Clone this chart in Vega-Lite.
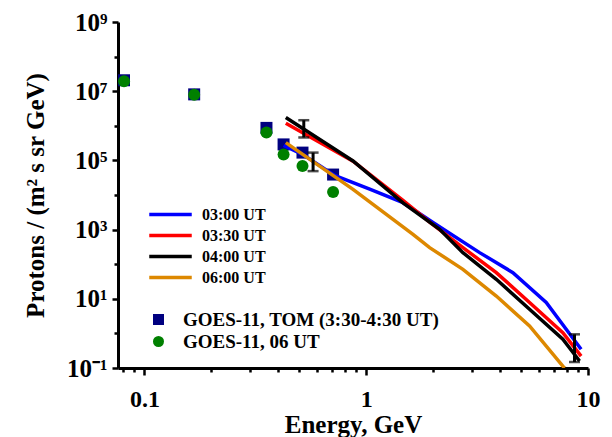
{
  "$schema": "https://vega.github.io/schema/vega-lite/v6.json",
  "width": 470,
  "height": 346,
  "autosize": {"type": "none"},
  "padding": {"left": 118, "top": 22, "right": 24, "bottom": 69},
  "background": "white",
  "config": {
    "view": {"stroke": null},
    "font": "Liberation Serif",
    "axis": {
      "domainColor": "black", "domainWidth": 3, "tickColor": "black", "tickWidth": 2.5,
      "labelColor": "black", "labelFont": "Liberation Serif", "labelFontWeight": "bold",
      "titleColor": "black", "titleFont": "Liberation Serif", "titleFontWeight": "bold",
      "grid": false, "labelOverlap": false, "labelFlush": false
    },
    "legend": {
      "labelFont": "Liberation Serif", "labelFontWeight": "bold", "labelColor": "black", "padding": 0, "labelLimit": 0
    }
  },
  "datasets": {
    "curves": [
      {"series": "03:00 UT", "E": 0.424, "F": 270000},
      {"series": "03:00 UT", "E": 0.516, "F": 150000},
      {"series": "03:00 UT", "E": 0.72, "F": 37000},
      {"series": "03:00 UT", "E": 1.037, "F": 14900},
      {"series": "03:00 UT", "E": 1.465, "F": 6000},
      {"series": "03:00 UT", "E": 2.0, "F": 1600},
      {"series": "03:00 UT", "E": 3.246, "F": 216},
      {"series": "03:00 UT", "E": 4.585, "F": 57},
      {"series": "03:00 UT", "E": 6.48, "F": 7.8},
      {"series": "03:00 UT", "E": 9.31, "F": 0.35},
      {"series": "03:30 UT", "E": 0.434, "F": 1180000},
      {"series": "03:30 UT", "E": 0.872, "F": 95000},
      {"series": "03:30 UT", "E": 1.465, "F": 7000},
      {"series": "03:30 UT", "E": 1.932, "F": 1650},
      {"series": "03:30 UT", "E": 2.729, "F": 302},
      {"series": "03:30 UT", "E": 3.86, "F": 57},
      {"series": "03:30 UT", "E": 5.45, "F": 7.8},
      {"series": "03:30 UT", "E": 7.7, "F": 1.05},
      {"series": "03:30 UT", "E": 9.31, "F": 0.22},
      {"series": "04:00 UT", "E": 0.434, "F": 1730000},
      {"series": "04:00 UT", "E": 0.872, "F": 96000},
      {"series": "04:00 UT", "E": 1.465, "F": 5900},
      {"series": "04:00 UT", "E": 2.143, "F": 1020},
      {"series": "04:00 UT", "E": 2.729, "F": 216},
      {"series": "04:00 UT", "E": 3.86, "F": 36.6},
      {"series": "04:00 UT", "E": 5.45, "F": 4.98},
      {"series": "04:00 UT", "E": 7.7, "F": 0.676},
      {"series": "04:00 UT", "E": 9.16, "F": 0.159},
      {"series": "06:00 UT", "E": 0.434, "F": 327000},
      {"series": "06:00 UT", "E": 0.872, "F": 14600},
      {"series": "06:00 UT", "E": 1.625, "F": 731},
      {"series": "06:00 UT", "E": 1.932, "F": 302},
      {"series": "06:00 UT", "E": 2.729, "F": 71},
      {"series": "06:00 UT", "E": 3.86, "F": 12},
      {"series": "06:00 UT", "E": 5.45, "F": 1.64},
      {"series": "06:00 UT", "E": 7.7, "F": 0.113},
      {"series": "06:00 UT", "E": 7.84, "F": 0.1}
    ],
    "points": [
      {"series": "GOES-11, TOM (3:30-4:30 UT)", "E": 0.0809, "F": 20700000},
      {"series": "GOES-11, TOM (3:30-4:30 UT)", "E": 0.1676, "F": 8100000},
      {"series": "GOES-11, TOM (3:30-4:30 UT)", "E": 0.355, "F": 870000},
      {"series": "GOES-11, TOM (3:30-4:30 UT)", "E": 0.424, "F": 290000},
      {"series": "GOES-11, TOM (3:30-4:30 UT)", "E": 0.516, "F": 168000},
      {"series": "GOES-11, TOM (3:30-4:30 UT)", "E": 0.709, "F": 39000},
      {"series": "GOES-11, 06 UT", "E": 0.0809, "F": 19300000},
      {"series": "GOES-11, 06 UT", "E": 0.1676, "F": 7900000},
      {"series": "GOES-11, 06 UT", "E": 0.355, "F": 640000},
      {"series": "GOES-11, 06 UT", "E": 0.424, "F": 147000},
      {"series": "GOES-11, 06 UT", "E": 0.516, "F": 69000},
      {"series": "GOES-11, 06 UT", "E": 0.709, "F": 12200}
    ],
    "errors": [
      {"E": 0.523, "lo": 460000, "hi": 1450000},
      {"E": 0.576, "lo": 49000, "hi": 168000},
      {"E": 8.69, "lo": 0.149, "hi": 0.94}
    ]
  },
  "encoding": {
    "x": {
      "field": "E", "type": "quantitative",
      "scale": {"type": "log", "domain": [0.076, 10], "nice": false},
      "axis": {
        "title": "Energy, GeV", "titleFontSize": 25, "titlePadding": 1,
        "values": [0.08, 0.09, 0.1, 0.2, 0.3, 0.4, 0.5, 0.6, 0.7, 0.8, 0.9, 1, 2, 3, 4, 5, 6, 7, 8, 9, 10],
        "labelExpr": "datum.value == 0.1 ? '0.1' : datum.value == 1 ? '1' : datum.value == 10 ? '10' : ''",
        "tickSize": {"condition": {"test": "datum.value == 0.1 || datum.value == 1 || datum.value == 10", "value": 7}, "value": 4},
        "labelFontSize": 24, "labelPadding": 12
      }
    },
    "y": {
      "field": "F", "type": "quantitative",
      "scale": {"type": "log", "domain": [0.1, 1000000000], "nice": false},
      "axis": {
        "title": "Protons / (m² s sr GeV)", "titleFontSize": 25, "titlePadding": 18,
        "values": [0.1, 1, 10, 100, 1000, 10000, 100000, 1000000, 10000000, 100000000, 1000000000],
        "labelExpr": "datum.value == 1000000000 ? '10⁹' : datum.value == 10000000 ? '10⁷' : datum.value == 100000 ? '10⁵' : datum.value == 1000 ? '10³' : datum.value == 10 ? '10¹' : datum.value == 0.1 ? '10⁻¹' : ''",
        "tickSize": {"condition": {"test": "datum.value == 0.1 || datum.value == 10 || datum.value == 1000 || datum.value == 100000 || datum.value == 10000000 || datum.value == 1000000000", "value": 6}, "value": 4},
        "labelFontSize": 25, "labelPadding": 5
      }
    }
  },
  "layer": [
    {
      "data": {"name": "points"},
      "mark": {"type": "point", "filled": true, "size": 144, "opacity": 1, "strokeWidth": 0},
      "encoding": {
        "fill": {
          "field": "series", "type": "nominal",
          "scale": {"domain": ["GOES-11, TOM (3:30-4:30 UT)", "GOES-11, 06 UT"], "range": ["#000080", "#008000"]},
          "legend": {"orient": "none", "legendX": 31, "legendY": 288, "title": null, "labelFontSize": 19, "symbolSize": 121, "symbolStrokeWidth": 0, "labelOffset": 15, "rowPadding": 2}
        },
        "shape": {
          "field": "series", "type": "nominal",
          "scale": {"domain": ["GOES-11, TOM (3:30-4:30 UT)", "GOES-11, 06 UT"], "range": ["square", "circle"]},
          "legend": {"orient": "none", "legendX": 31, "legendY": 288, "title": null, "labelFontSize": 19, "symbolSize": 121, "symbolStrokeWidth": 0, "labelOffset": 15, "rowPadding": 2}
        }
      }
    },
    {
      "data": {"name": "curves"},
      "mark": {"type": "line", "strokeWidth": 3.5, "clip": true},
      "encoding": {
        "stroke": {
          "field": "series", "type": "nominal",
          "scale": {"domain": ["03:00 UT", "03:30 UT", "04:00 UT", "06:00 UT"], "range": ["#0000ff", "#ff0000", "#000000", "#dd8800"]},
          "legend": {"orient": "none", "legendX": 42, "legendY": 182, "title": null, "labelFontSize": 16, "symbolType": "M-2.5,0H2.5", "symbolSize": 289, "symbolStrokeWidth": 3.5, "labelOffset": 21, "rowPadding": 2}
        }
      }
    },
    {
      "data": {"name": "errors"},
      "mark": {"type": "rule", "color": "black", "strokeWidth": 3},
      "encoding": {"y": {"field": "lo", "type": "quantitative"}, "y2": {"field": "hi"}}
    },
    {
      "data": {"name": "errors"},
      "mark": {"type": "tick", "color": "black", "orient": "horizontal", "size": 11, "thickness": 2.5},
      "encoding": {"y": {"field": "lo", "type": "quantitative"}}
    },
    {
      "data": {"name": "errors"},
      "mark": {"type": "tick", "color": "black", "orient": "horizontal", "size": 11, "thickness": 2.5},
      "encoding": {"y": {"field": "hi", "type": "quantitative"}}
    }
  ]
}
